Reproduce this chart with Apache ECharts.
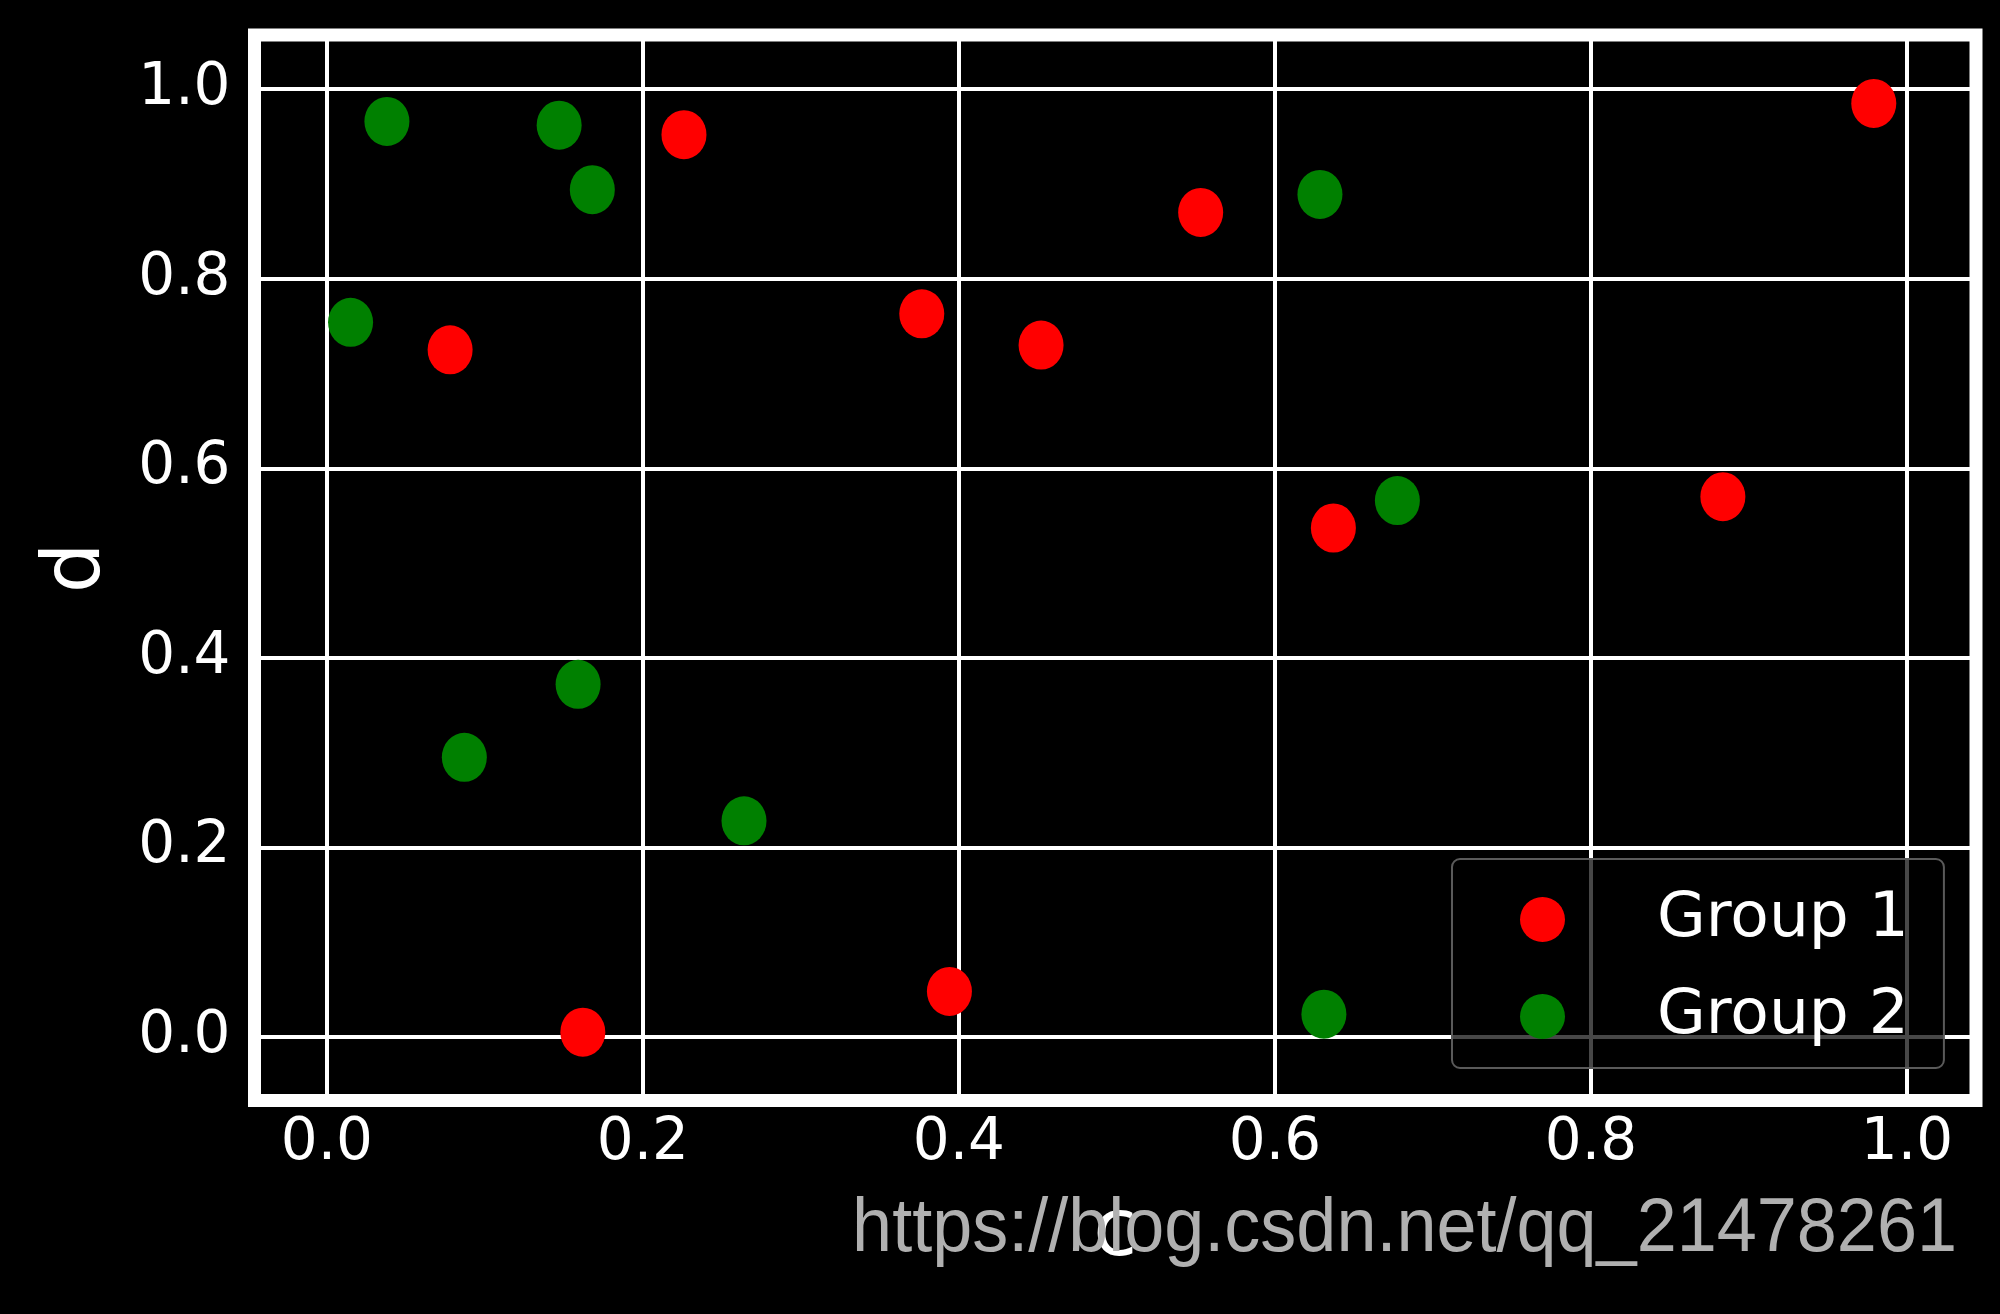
<!DOCTYPE html>
<html>
<head>
<meta charset="utf-8">
<script src="https://cdn.jsdelivr.net/npm/echarts@6/dist/echarts.min.js"></script>
<style>
  html, body { margin: 0; padding: 0; background: #000; }
  #chart { width: 2000px; height: 1314px; }
</style>
</head>
<body>
<div id="chart"></div>
<script>
// ---- data ----
const seriesNames = ['Group 1', 'Group 2'];
const group1X = [0.226, 0.078, 0.3765, 0.452, 0.553, 0.979, 0.637, 0.8835, 0.162, 0.394];
const group1Y = [0.952, 0.725, 0.763, 0.730, 0.870, 0.985, 0.537, 0.570, 0.005, 0.048];
const group2X = [0.038, 0.147, 0.168, 0.015, 0.6285, 0.6775, 0.159, 0.087, 0.264, 0.631];
const group2Y = [0.966, 0.962, 0.894, 0.754, 0.889, 0.566, 0.372, 0.295, 0.228, 0.024];
const xAxisName = 'c';
const yAxisName = 'd';
const watermarkText = 'https://blog.csdn.net/qq_21478261';

const zip = (xs, ys) => xs.map((x, i) => [x, ys[i]]);

const FONT = 'DejaVu Sans';
const chart = echarts.init(document.getElementById('chart'), null, { renderer: 'canvas' });

const option = {
  backgroundColor: '#000000',
  animation: false,
  grid: {
    show: true,
    left: 254.5,
    right: 24,
    top: 35,
    bottom: 213.5,
    borderColor: '#ffffff',
    borderWidth: 13,
    backgroundColor: '#000000',
    containLabel: false
  },
  xAxis: {
    type: 'value',
    min: -0.0458,
    max: 1.0437,
    splitNumber: 5,
    name: xAxisName,
    nameLocation: 'middle',
    nameGap: 94,
    nameTextStyle: { color: '#ffffff', fontSize: 80, fontFamily: FONT },
    axisLine: { show: false },
    axisTick: { show: false },
    axisLabel: {
      color: '#ffffff', fontSize: 58, fontFamily: FONT, margin: 14,
      showMinLabel: false, showMaxLabel: false,
      formatter: v => v.toFixed(1)
    },
    splitLine: { show: true, lineStyle: { color: '#ffffff', width: 4 } }
  },
  yAxis: {
    type: 'value',
    min: -0.0671,
    max: 1.0572,
    splitNumber: 5,
    name: yAxisName,
    nameLocation: 'middle',
    nameGap: 136,
    nameRotate: 90,
    nameTextStyle: { color: '#ffffff', fontSize: 80, fontFamily: FONT },
    axisLine: { show: false },
    axisTick: { show: false },
    axisLabel: {
      color: '#ffffff', fontSize: 58, fontFamily: FONT, margin: 24,
      showMinLabel: false, showMaxLabel: false,
      formatter: v => v.toFixed(1)
    },
    splitLine: { show: true, lineStyle: { color: '#ffffff', width: 4 } }
  },
  legend: {
    orient: 'vertical',
    left: 1452,
    top: 859,
    padding: [29, 35, 20, 68],
    itemGap: 34,
    itemWidth: 45,
    itemHeight: 48,
    icon: 'circle',
    backgroundColor: 'rgba(0,0,0,0.72)',
    borderColor: '#5a5a5a',
    borderWidth: 2,
    borderRadius: 8,
    textStyle: { color: '#ffffff', fontSize: 63, fontFamily: FONT, padding: [0, 0, 0, 87] },
    data: seriesNames,
    z: 10
  },
  series: [
    {
      name: seriesNames[0],
      type: 'scatter',
      symbol: 'circle',
      symbolSize: [45, 49],
      itemStyle: { color: '#ff0000', opacity: 1 },
      data: zip(group1X, group1Y),
      z: 3
    },
    {
      name: seriesNames[1],
      type: 'scatter',
      symbol: 'circle',
      symbolSize: [45, 49],
      itemStyle: { color: '#008000', opacity: 1 },
      data: zip(group2X, group2Y),
      z: 3
    }
  ],
  graphic: [
    {
      type: 'text',
      x: 1957,
      y: 1230,
      scaleY: 1.06,
      z: 20,
      style: {
        text: watermarkText,
        x: 0, y: 0,
        align: 'right',
        verticalAlign: 'middle',
        fill: '#b0b0b0',
        font: '72px "Liberation Sans", Arial, sans-serif'
      }
    }
  ]
};

chart.setOption(option);
</script>
</body>
</html>
